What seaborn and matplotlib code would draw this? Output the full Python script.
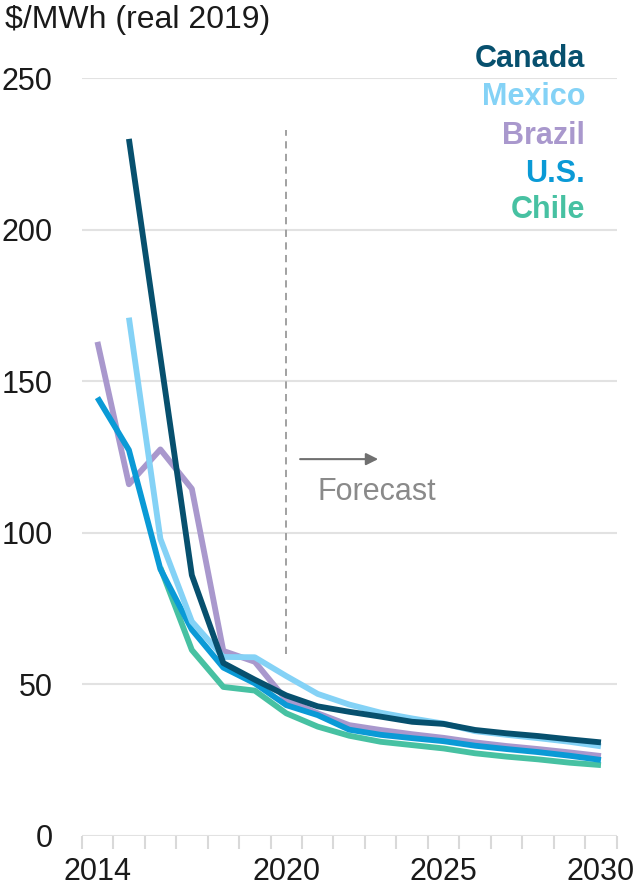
import numpy as np
import pandas as pd
import matplotlib
matplotlib.use("Agg")
import matplotlib.pyplot as plt
import seaborn as sns

# Levelized cost of electricity, $/MWh (real 2019)
years = list(range(2014, 2031))
canada = [np.nan, 230, 158, 86, 57, 51.5, 46.3, 42.7, 40.9, 39.3, 37.6, 36.9, 34.9, 33.8, 32.9, 31.8, 30.8]
mexico = [np.nan, 171, 98, 70.7, 59, 58.9, 52.7, 46.8, 43.3, 40.6, 38.7, 37.0, 34.5, 33.3, 32.2, 31.0, 29.5]
brazil = [163, 116, 127.5, 114.5, 61, 57.4, 44.8, 40.4, 36.5, 34.9, 33.5, 32.3, 30.8, 29.6, 28.6, 27.5, 26.3]
us = [144.6, 127.3, 88, 68, 55.5, 50.3, 43.1, 39.8, 35.0, 33.3, 32.2, 31.2, 29.7, 28.6, 27.6, 26.4, 25.0]
chile = [np.nan, np.nan, 88.5, 61.3, 49.1, 47.9, 40.4, 36.0, 33.0, 31.0, 29.9, 28.8, 27.2, 26.1, 25.2, 24.1, 23.3]

countries = ["Canada", "Mexico", "Brazil", "U.S.", "Chile"]
colors = {"Canada": "#07506E", "Mexico": "#84D2F6", "Brazil": "#A998CD",
          "U.S.": "#0A9AD6", "Chile": "#47C1A2"}
ytick_values = [0, 50, 100, 150, 200, 250]
xtick_labels = [2014, 2020, 2025, 2030]
forecast_start = 2020

series = {"Canada": canada, "Mexico": mexico, "Brazil": brazil, "U.S.": us, "Chile": chile}
df = pd.DataFrame([
    {"year": y, "country": c, "cost": v}
    for c, vals in series.items() for y, v in zip(years, vals)
]).dropna()

sns.set_theme(style="white")
plt.rcParams["font.family"] = ["Liberation Sans", "DejaVu Sans"]

fig = plt.figure(figsize=(6.41, 8.94), dpi=100)
ax = fig.add_axes([81.7 / 641, 1 - 835.7 / 894, (616.7 - 81.7) / 641, (835.7 - 78.3) / 894])

sns.lineplot(data=df, x="year", y="cost", hue="country",
             hue_order=["Chile", "Brazil", "U.S.", "Mexico", "Canada"],
             palette=colors, linewidth=4.2, legend=False, ax=ax,
             solid_capstyle="butt", zorder=3)

ax.set_xlim(2013.5, 2030.5)
ax.set_ylim(0, 250)
for s in ax.spines.values():
    s.set_visible(False)

# horizontal grid
ax.set_yticks(ytick_values)
ax.set_yticklabels([str(v) for v in ytick_values])
ax.yaxis.grid(True, color="#e2e2e2", linewidth=1.5, zorder=0)
ax.xaxis.grid(False)
ax.tick_params(axis="y", length=0, pad=21, labelsize=22, labelcolor="#1a1a1a")

# year bands: boundary ticks, labels in the middle
ax.set_xticks(xtick_labels)
ax.set_xticklabels([str(v) for v in xtick_labels])
ax.set_xticks(np.arange(2013.5, 2031, 1.0), minor=True)
ax.tick_params(axis="x", which="major", length=0, pad=15, labelsize=22, labelcolor="#1a1a1a")
ax.tick_params(axis="x", which="minor", length=9, width=1.5, color="#d9d9d9", bottom=True)
ax.set_xlabel("")
ax.set_ylabel("")

# forecast marker
ax.plot([forecast_start, forecast_start], [60, 233], color="#9a9a9a",
        linewidth=1.3, dashes=(4, 3), zorder=2)
ax.annotate("", xy=(2022.92, 124.3), xytext=(2020.44, 124.3),
            arrowprops=dict(arrowstyle="-|>", color="#707070", lw=1.5,
                            mutation_scale=18, shrinkA=0, shrinkB=0))
ax.text(2021.0, 113.5, "Forecast", color="#8a8a8a", fontsize=22,
        ha="left", va="center")

# country labels
baselines = [66.7, 105, 144.5, 181.7, 218.5]
for name, b in zip(countries, baselines):
    fig.text(585 / 641, 1 - b / 894, name, color=colors[name], fontsize=22,
             fontweight="bold", ha="right", va="baseline")

fig.text(5 / 641, 1 - 28 / 894, "$/MWh (real 2019)", fontsize=23,
         color="#1a1a1a", ha="left", va="baseline")

fig.savefig("out.png", dpi=100)
